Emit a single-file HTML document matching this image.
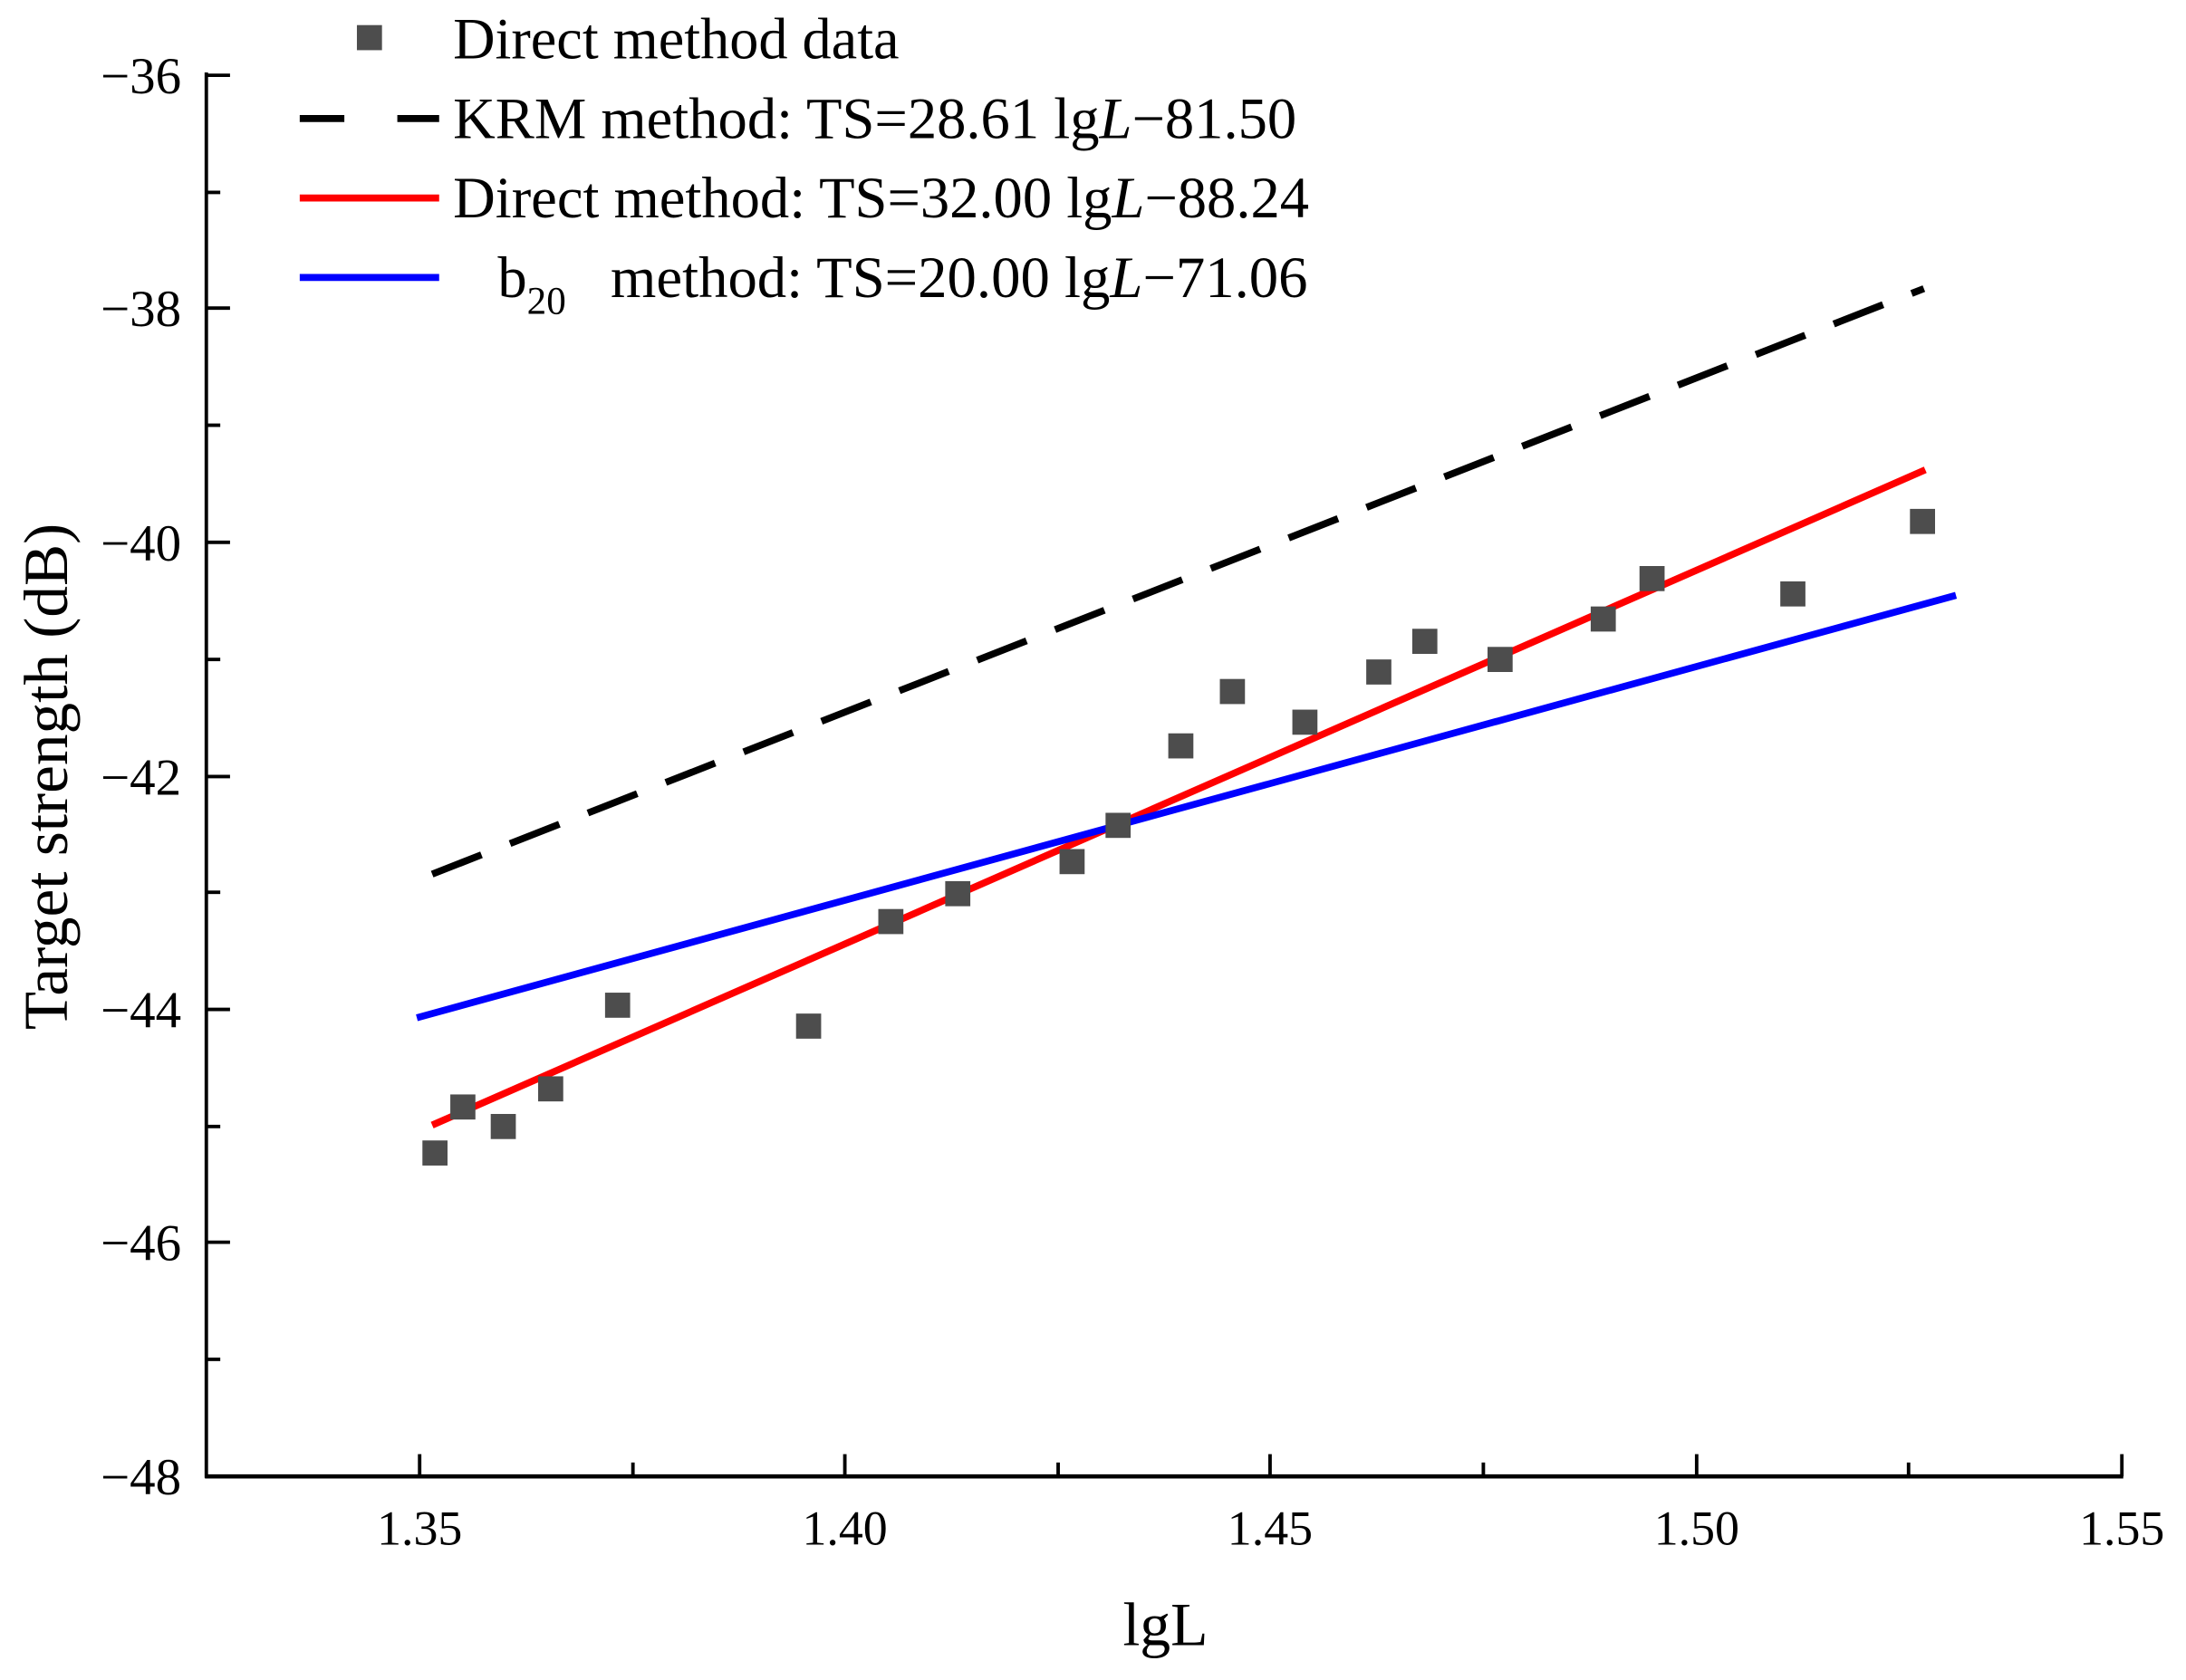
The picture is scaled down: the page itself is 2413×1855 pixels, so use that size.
<!DOCTYPE html>
<html><head><meta charset="utf-8"><style>html,body{margin:0;padding:0;background:#fff}svg{display:block}</style></head>
<body>
<svg width="2413" height="1855" viewBox="0 0 1568 1205" preserveAspectRatio="none" xmlns="http://www.w3.org/2000/svg" font-family="Liberation Serif, serif">
<rect width="1568" height="1205" fill="#fff"/>
<line x1="148" y1="52" x2="148" y2="1060" stroke="#000" stroke-width="2.5"/>
<line x1="147" y1="1059" x2="1523" y2="1059" stroke="#000" stroke-width="3"/>
<g stroke="#000" stroke-width="2.5">
<line x1="148" y1="54" x2="165" y2="54"/><line x1="148" y1="138" x2="158" y2="138"/>
<line x1="148" y1="221" x2="165" y2="221"/><line x1="148" y1="305" x2="158" y2="305"/>
<line x1="148" y1="389" x2="165" y2="389"/><line x1="148" y1="473" x2="158" y2="473"/>
<line x1="148" y1="557" x2="165" y2="557"/><line x1="148" y1="640" x2="158" y2="640"/>
<line x1="148" y1="724" x2="165" y2="724"/><line x1="148" y1="808" x2="158" y2="808"/>
<line x1="148" y1="891" x2="165" y2="891"/><line x1="148" y1="975" x2="158" y2="975"/>
<line x1="301" y1="1059" x2="301" y2="1043"/><line x1="454" y1="1059" x2="454" y2="1049"/>
<line x1="606" y1="1059" x2="606" y2="1043"/><line x1="759" y1="1059" x2="759" y2="1049"/>
<line x1="911" y1="1059" x2="911" y2="1043"/><line x1="1064" y1="1059" x2="1064" y2="1049"/>
<line x1="1217" y1="1059" x2="1217" y2="1043"/><line x1="1369" y1="1059" x2="1369" y2="1049"/>
<line x1="1522" y1="1059" x2="1522" y2="1043"/>
</g>
<g font-size="37" text-anchor="end" fill="#000">
<text x="130" y="67">−36</text><text x="130" y="234">−38</text><text x="130" y="402">−40</text>
<text x="130" y="570">−42</text><text x="130" y="737">−44</text><text x="130" y="904">−46</text><text x="130" y="1072">−48</text>
</g>
<g font-size="35" text-anchor="middle" fill="#000">
<text x="301" y="1108">1.35</text><text x="606" y="1108">1.40</text><text x="911" y="1108">1.45</text>
<text x="1217" y="1108">1.50</text><text x="1522" y="1108">1.55</text>
</g>
<text x="836" y="1180" font-size="44" text-anchor="middle">lgL</text>
<text transform="translate(48,557) rotate(-90)" font-size="45" text-anchor="middle">Target strength (dB)</text>
<line x1="310" y1="627" x2="1380" y2="207" stroke="#000" stroke-width="5" stroke-dasharray="38,22"/>
<line x1="310" y1="807" x2="1381" y2="337" stroke="#f00" stroke-width="5"/>
<line x1="299" y1="730" x2="1403" y2="427" stroke="#00f" stroke-width="5"/>
<g fill="#4d4d4d">
<rect x="303" y="818" width="18" height="18"/><rect x="323" y="785" width="18" height="18"/>
<rect x="352" y="799" width="18" height="18"/><rect x="386" y="772" width="18" height="18"/>
<rect x="434" y="712" width="18" height="18"/><rect x="571" y="727" width="18" height="18"/>
<rect x="630" y="652" width="18" height="18"/><rect x="678" y="632" width="18" height="18"/>
<rect x="760" y="609" width="18" height="18"/><rect x="793" y="583" width="18" height="18"/>
<rect x="838" y="526" width="18" height="18"/><rect x="875" y="487" width="18" height="18"/>
<rect x="927" y="509" width="18" height="18"/><rect x="980" y="473" width="18" height="18"/>
<rect x="1013" y="451" width="18" height="18"/><rect x="1067" y="464" width="18" height="18"/>
<rect x="1141" y="435" width="18" height="18"/><rect x="1176" y="406" width="18" height="18"/>
<rect x="1277" y="417" width="18" height="18"/><rect x="1370" y="365" width="18" height="18"/>
</g>
<rect x="256" y="18" width="18" height="18" fill="#4d4d4d"/>
<line x1="215" y1="85" x2="315" y2="85" stroke="#000" stroke-width="5" stroke-dasharray="32,38"/>
<line x1="215" y1="142" x2="315" y2="142" stroke="#f00" stroke-width="5"/>
<line x1="215" y1="199" x2="315" y2="199" stroke="#00f" stroke-width="5"/>
<g font-size="42" fill="#000">
<text x="325" y="42" textLength="320" lengthAdjust="spacingAndGlyphs">Direct method data</text>
<text x="325" y="99" textLength="605" lengthAdjust="spacingAndGlyphs">KRM method: TS=28.61 lg<tspan font-style="italic">L</tspan>−81.50</text>
<text x="325" y="156" textLength="614" lengthAdjust="spacingAndGlyphs">Direct method: TS=32.00 lg<tspan font-style="italic">L</tspan>−88.24</text>
<text x="357" y="213">b<tspan font-size="28" dy="12">20</tspan></text>
<text x="438" y="213" textLength="500" lengthAdjust="spacingAndGlyphs">method: TS=20.00 lg<tspan font-style="italic">L</tspan>−71.06</text>
</g>
</svg>
</body></html>
